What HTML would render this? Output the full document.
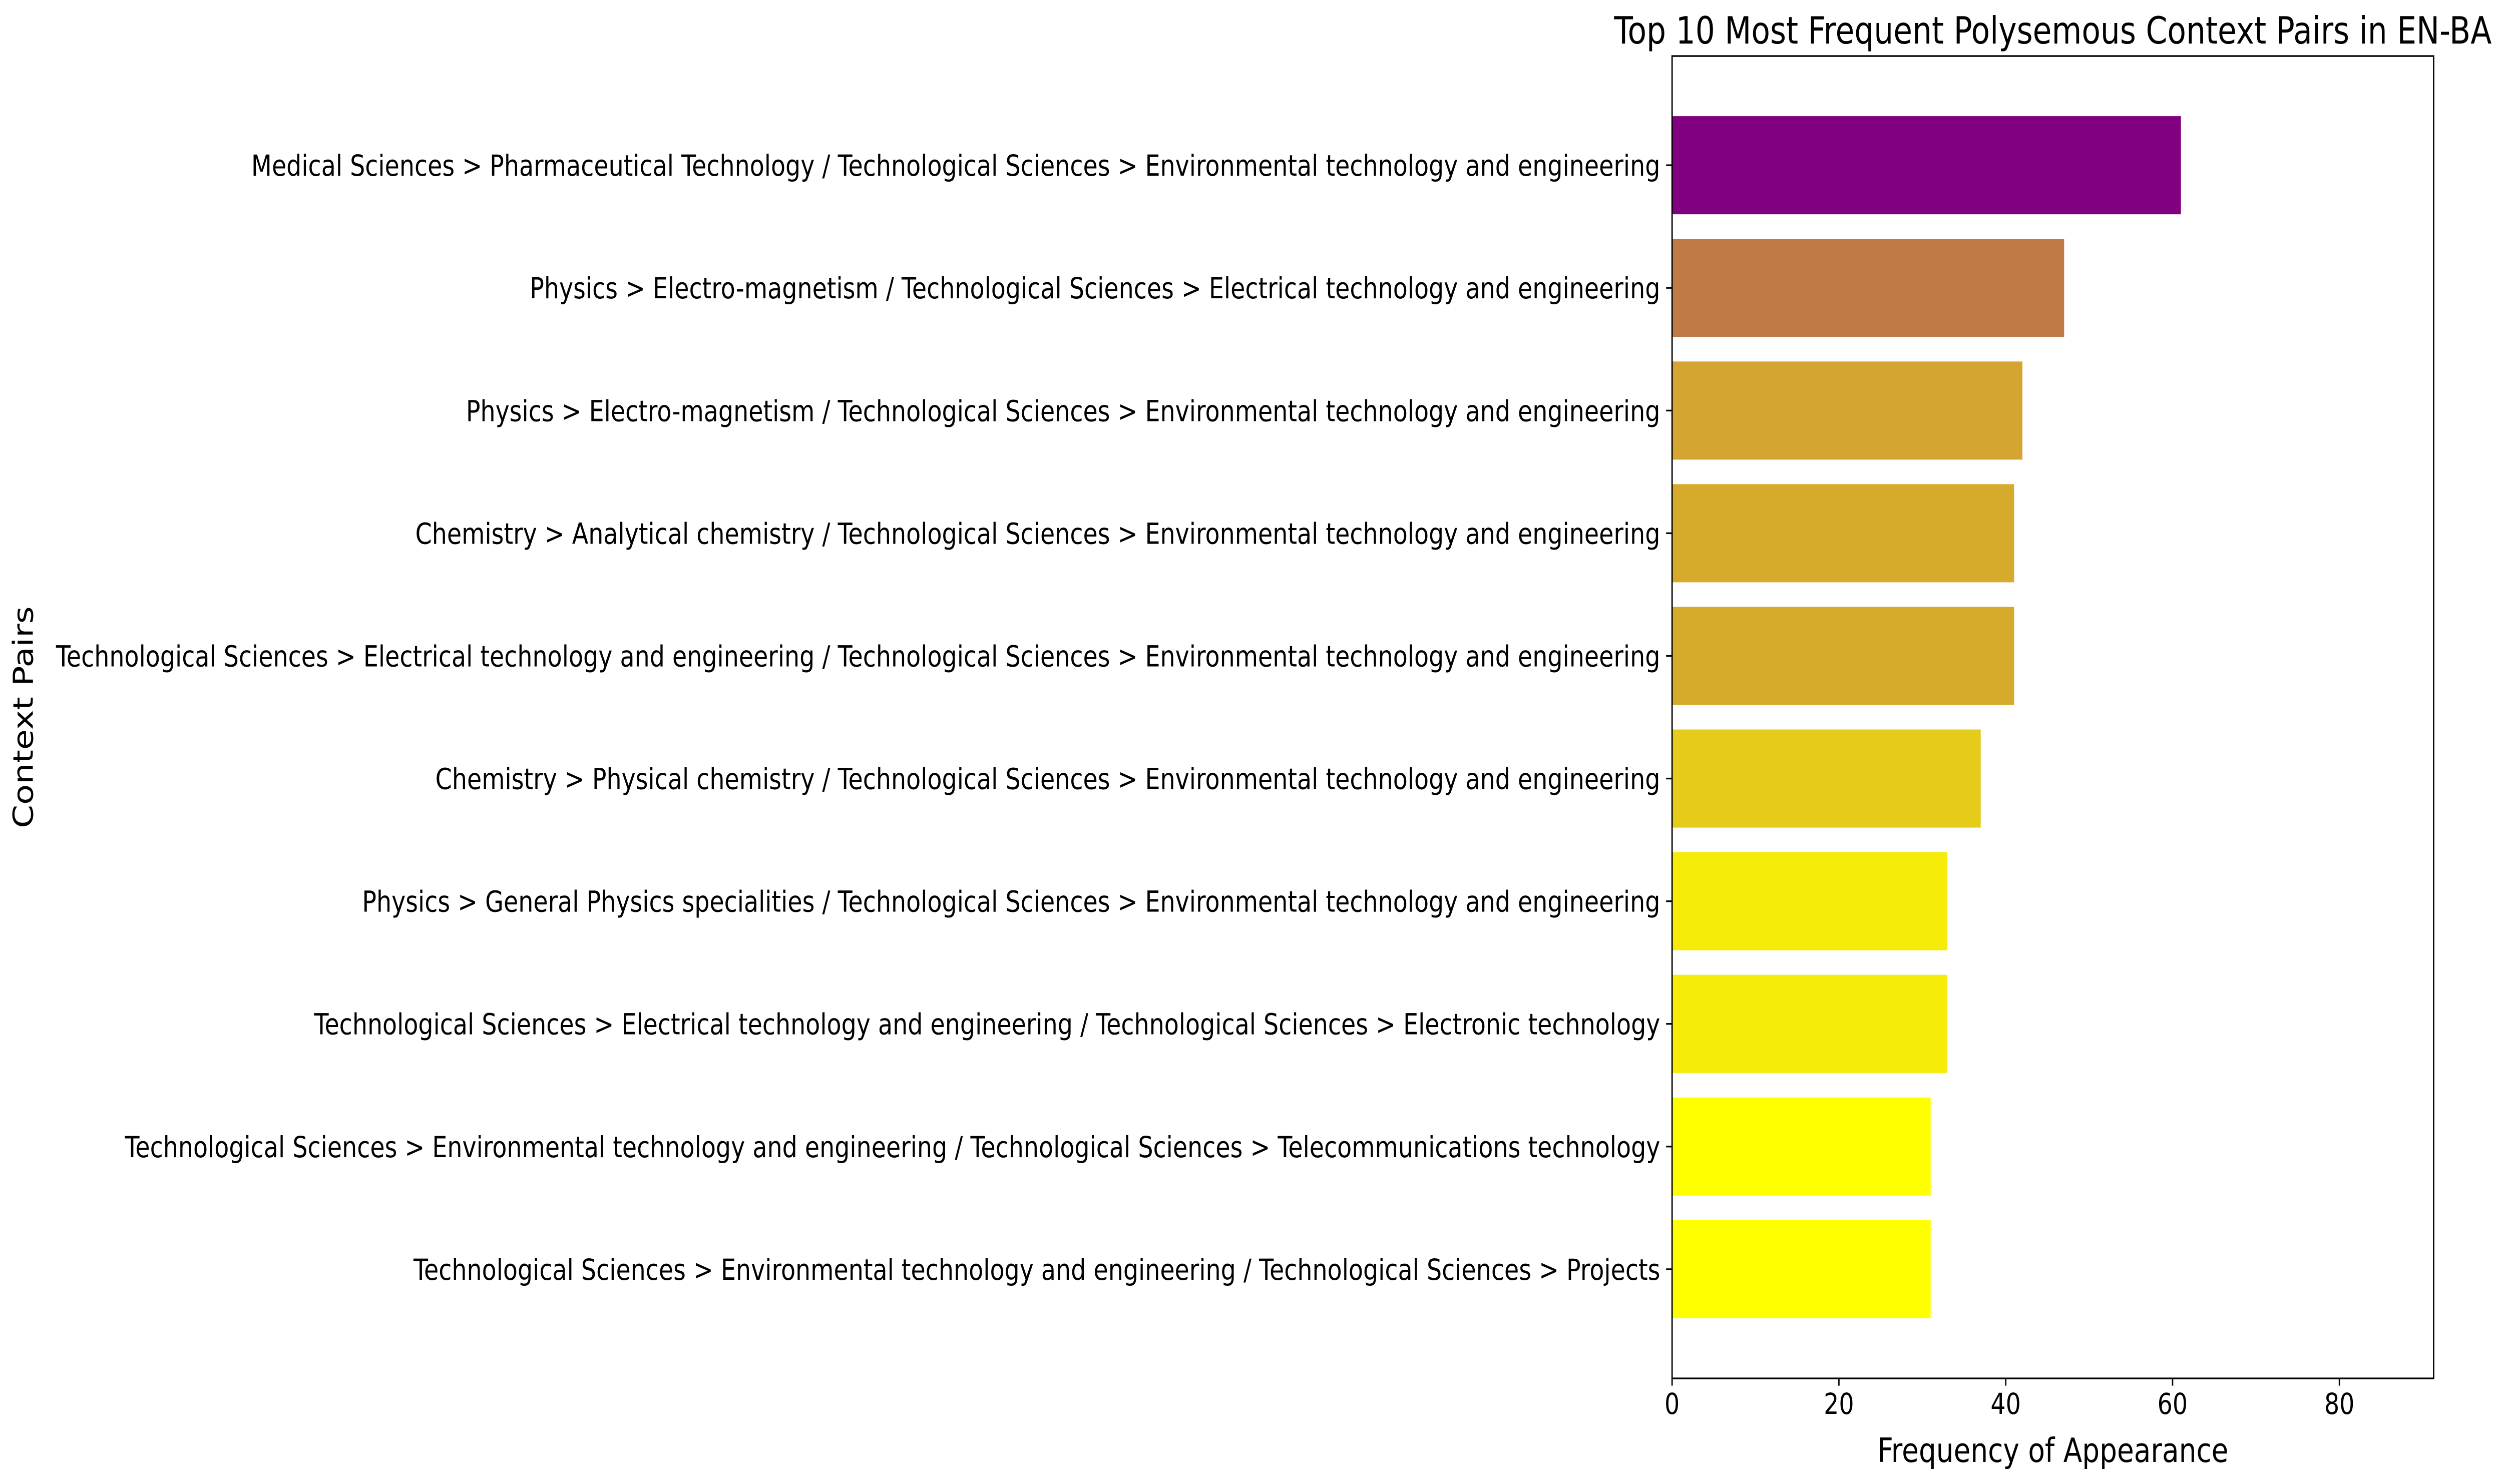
<!DOCTYPE html>
<html><head><meta charset="utf-8"><style>
html,body{margin:0;padding:0;background:#fff;overflow:hidden;width:100vw;height:100vh}
svg{display:block;width:100vw;height:100vh;font-family:"DejaVu Sans","Liberation Sans",sans-serif}
</style></head><body>
<svg id="chart" viewBox="0 0 6100 2965" preserveAspectRatio="none" xmlns="http://www.w3.org/2000/svg">
<rect width="6100" height="2965" fill="#fff"/>
<g id="bars"></g>
<g id="yticks"></g>
<g id="xticks"></g>
<rect x="4075" y="112" width="1856" height="2642" fill="none" stroke="#000" stroke-width="3.3"/>
<text x="5003" y="87" font-size="75" text-anchor="middle">Top 10 Most Frequent Polysemous Context Pairs in EN-BA</text>
<text x="5003" y="2921" font-size="67" text-anchor="middle">Frequency of Appearance</text>
<text transform="translate(80,1433) rotate(-90)" font-size="67" text-anchor="middle">Context Pairs</text>
</svg>
<script>
const categories = [
"Medical Sciences > Pharmaceutical Technology / Technological Sciences > Environmental technology and engineering",
"Physics > Electro-magnetism / Technological Sciences > Electrical technology and engineering",
"Physics > Electro-magnetism / Technological Sciences > Environmental technology and engineering",
"Chemistry > Analytical chemistry / Technological Sciences > Environmental technology and engineering",
"Technological Sciences > Electrical technology and engineering / Technological Sciences > Environmental technology and engineering",
"Chemistry > Physical chemistry / Technological Sciences > Environmental technology and engineering",
"Physics > General Physics specialities / Technological Sciences > Environmental technology and engineering",
"Technological Sciences > Electrical technology and engineering / Technological Sciences > Electronic technology",
"Technological Sciences > Environmental technology and engineering / Technological Sciences > Telecommunications technology",
"Technological Sciences > Environmental technology and engineering / Technological Sciences > Projects"
];
const values = [61, 47, 42, 41, 41, 37, 33, 33, 31, 31];
const barColors = ["#800080","#BE7B46","#D4A531","#D6AB2C","#D6AB2C","#E6CC1A","#F5EC0A","#F5EC0A","#FFFF00","#FFFF00"];
const xTickValues = [0, 20, 40, 60, 80];

const NS = "http://www.w3.org/2000/svg";
const L = 4075, R = 5931, T = 112, B = 2754;
const xMax = 91.3;
const yMin = -0.89, yMax = categories.length - 1 + 0.89;
function xs(v){ return L + v / xMax * (R - L); }
function ys(i){ return T + (i - yMin) / (yMax - yMin) * (B - T); }
const bw = 0.8 * (B - T) / (yMax - yMin);

const gb = document.getElementById('bars');
const gy = document.getElementById('yticks');
const gx = document.getElementById('xticks');
values.forEach((v, i) => {
  const r = document.createElementNS(NS, 'rect');
  r.setAttribute('x', xs(0));
  r.setAttribute('y', ys(i) - bw / 2);
  r.setAttribute('width', xs(v) - xs(0));
  r.setAttribute('height', bw);
  r.setAttribute('fill', barColors[i]);
  
  
  gb.appendChild(r);
});
categories.forEach((c, i) => {
  const y = ys(i);
  const ln = document.createElementNS(NS, 'line');
  ln.setAttribute('x1', L - 14.6); ln.setAttribute('x2', L);
  ln.setAttribute('y1', y); ln.setAttribute('y2', y);
  ln.setAttribute('stroke', '#000'); ln.setAttribute('stroke-width', '3.3');
  
  
  gy.appendChild(ln);
  const t = document.createElementNS(NS, 'text');
  t.setAttribute('x', L - 29);
  t.setAttribute('y', y + 21);
  t.setAttribute('font-size', '58');
  t.setAttribute('text-anchor', 'end');
  t.textContent = c;
  
  
  gy.appendChild(t);
});
xTickValues.forEach(v => {
  const x = xs(v);
  const ln = document.createElementNS(NS, 'line');
  ln.setAttribute('x1', x); ln.setAttribute('x2', x);
  ln.setAttribute('y1', B); ln.setAttribute('y2', B + 14.6);
  ln.setAttribute('stroke', '#000'); ln.setAttribute('stroke-width', '3.3');
  
  
  gx.appendChild(ln);
  const t = document.createElementNS(NS, 'text');
  t.setAttribute('x', x);
  t.setAttribute('y', B + 29 + 42);
  t.setAttribute('font-size', '58');
  t.setAttribute('text-anchor', 'middle');
  t.textContent = String(v);
  
  
  gx.appendChild(t);
});
</script>
</body></html>
